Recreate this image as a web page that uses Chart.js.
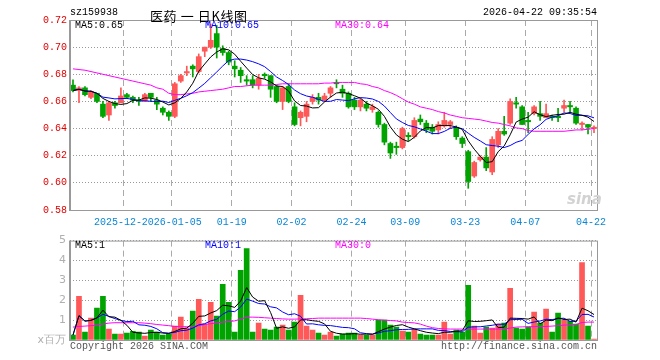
<!DOCTYPE html>
<html>
<head>
<meta charset="utf-8">
<script src="https://cdn.jsdelivr.net/npm/chart.js@4.4.1/dist/chart.umd.min.js"></script>
<style>
  body { margin: 0; background: #fff; }
  #wrap { position: relative; width: 660px; height: 360px; overflow: hidden; font-family: "Liberation Mono", monospace; font-size: 10px; }
  #priceBox { position: absolute; left: 0; top: 0; width: 660px; height: 230px; }
  #volBox { position: absolute; left: 0; top: 230px; width: 660px; height: 130px; }
  .txt { position: absolute; white-space: pre; line-height: 10px; }
</style>
</head>
<body>
<div id="wrap">
  <div id="priceBox"><canvas id="priceChart"></canvas></div>
  <div id="volBox"><canvas id="volChart"></canvas></div>

  <div class="txt" style="left:70px;top:8px;">sz159938</div>
  <div class="txt" style="left:150px;top:6px;line-height:14px;font:13px 'Noto Sans CJK SC';letter-spacing:0.6px;">医药 一 日K线图</div>
  <div class="txt" style="right:63px;top:8px;">2026-04-22 09:35:54</div>

  <div class="txt" style="left:75px;top:21px;">MA5:0.65</div>
  <div class="txt" style="left:205px;top:21px;color:#0000ff;">MA10:0.65</div>
  <div class="txt" style="left:335px;top:21px;color:#ff00ff;">MA30:0.64</div>

  <div class="txt" style="left:75px;top:241px;">MA5:1</div>
  <div class="txt" style="left:205px;top:241px;color:#0000ff;">MA10:1</div>
  <div class="txt" style="left:335px;top:241px;color:#ff00ff;">MA30:0</div>

  <div class="txt" style="left:567px;top:190px;line-height:16px;font:italic bold 15px 'DejaVu Sans';color:#d2d2d2;">sina</div>

  <div class="txt" style="left:70px;top:342px;color:#555;">Copyright 2026 SINA.COM</div>
  <div class="txt" style="right:63px;top:342px;color:#555;">http://finance.sina.com.cn</div>
</div>

<script>
// DATA
const dates = [
  "2025-12-09","2025-12-10","2025-12-11","2025-12-12","2025-12-15","2025-12-16","2025-12-17","2025-12-18","2025-12-19",
  "2025-12-22","2025-12-23","2025-12-24","2025-12-25","2025-12-26","2025-12-29","2025-12-30","2025-12-31",
  "2026-01-05","2026-01-06","2026-01-07","2026-01-08","2026-01-09","2026-01-12","2026-01-13","2026-01-14","2026-01-15","2026-01-16",
  "2026-01-19","2026-01-20","2026-01-21","2026-01-22","2026-01-23","2026-01-26","2026-01-27","2026-01-28","2026-01-29","2026-01-30",
  "2026-02-02","2026-02-03","2026-02-04","2026-02-05","2026-02-06","2026-02-09","2026-02-10","2026-02-11","2026-02-12","2026-02-13",
  "2026-02-24","2026-02-25","2026-02-26","2026-02-27","2026-03-02","2026-03-03","2026-03-04","2026-03-05","2026-03-06",
  "2026-03-09","2026-03-10","2026-03-11","2026-03-12","2026-03-13","2026-03-16","2026-03-17","2026-03-18","2026-03-19","2026-03-20",
  "2026-03-23","2026-03-24","2026-03-25","2026-03-26","2026-03-27","2026-03-30","2026-03-31","2026-04-01","2026-04-02","2026-04-03",
  "2026-04-07","2026-04-08","2026-04-09","2026-04-10","2026-04-13","2026-04-14","2026-04-15","2026-04-16","2026-04-17",
  "2026-04-20","2026-04-21","2026-04-22"
];

const opens = [
  .672,.668,.670,.663,.666,.658,.650,.659,.659,.665,.663,.661,.660,.666,.661,.655,.652,
  .649,.675,.681,.686,.682,.697,.700,.710,.699,.696,.686,.683,.676,.676,.672,.680,.679,.671,.660,.671,
  .656,.648,.649,.660,.663,.661,.666,.674,.669,.666,.661,.656,.658,.654,.652,.643,.629,.627,.626,
  .635,.634,.647,.644,.641,.639,.642,.643,.641,.633,.623,.605,.617,.619,.608,.628,.638,.644,.659,.656,
  .646,.651,.651,.648,.649,.649,.655,.657,.655,.643,.643,.640
];
const highs = [
  .676,.671,.671,.668,.666,.660,.660,.660,.670,.666,.664,.663,.666,.666,.663,.656,.653,
  .674,.680,.686,.687,.695,.700,.717,.716,.701,.697,.690,.685,.679,.679,.680,.681,.679,.672,.671,.673,
  .659,.653,.660,.665,.666,.666,.671,.676,.672,.667,.663,.662,.660,.658,.653,.644,.630,.630,.641,
  .637,.648,.650,.646,.643,.645,.652,.646,.642,.634,.624,.616,.620,.626,.634,.640,.649,.662,.663,.657,
  .652,.657,.660,.658,.650,.655,.661,.660,.656,.645,.643,.642
];
const lows = [
  .667,.659,.664,.662,.659,.648,.646,.655,.659,.662,.659,.657,.660,.660,.654,.650,.646,
  .648,.674,.679,.678,.681,.693,.699,.692,.694,.687,.678,.674,.672,.670,.669,.677,.663,.659,.654,.659,
  .642,.642,.645,.658,.658,.660,.663,.670,.663,.655,.654,.653,.653,.652,.641,.628,.618,.621,.625,
  .631,.633,.643,.637,.636,.636,.641,.640,.632,.626,.596,.604,.616,.609,.606,.626,.635,.643,.655,.643,
  .637,.650,.646,.648,.646,.645,.652,.652,.643,.639,.636,.637
];
const closes = [
  .668,.670,.665,.667,.660,.649,.659,.657,.664,.663,.661,.660,.665,.663,.658,.652,.649,
  .673,.679,.682,.684,.693,.700,.705,.700,.696,.689,.684,.679,.675,.672,.677,.679,.669,.660,.670,.660,
  .643,.652,.658,.663,.661,.664,.670,.673,.666,.656,.656,.661,.655,.656,.643,.630,.622,.626,.640,
  .634,.646,.645,.639,.638,.643,.646,.645,.634,.629,.601,.615,.619,.611,.632,.638,.636,.660,.658,.643,
  .645,.656,.649,.651,.648,.648,.657,.656,.644,.644,.641,.641
];
// volume, millions
const volumes = [
  .25,2.2,.4,1.1,1.6,2.2,.55,.3,.3,.35,.43,.4,.2,.5,.4,.25,.3,
  .7,1.15,.6,1.45,2.05,.8,1.9,1.2,2.8,1.9,.4,3.5,4.6,.4,.85,.55,.5,.65,.75,.5,
  .9,2.25,.7,.5,.35,.25,.4,.2,.3,.35,.35,.25,.25,.25,1.0,1.0,.75,.65,.45,
  .4,.55,.3,.25,.25,.25,.9,.3,.5,.4,2.75,.7,.35,.65,.6,.8,.85,2.6,.6,.55,
  .65,1.4,.85,1.55,.4,1.35,1.0,.95,.8,3.9,.7,.05
];
// 30-day averages as drawn (the window reaches back before the first bar)
const ma30 = [
  .684,.6835,.683,.682,.681,.680,.679,.678,.677,.676,.675,.674,.673,.672,.670,.669,.666,
  .665,.665,.6655,.666,.667,.6675,.668,.6685,.669,.670,.671,.671,.6715,.672,.672,.672,.672,.6725,.673,.673,
  .673,.673,.673,.673,.673,.6735,.6735,.674,.674,.674,.674,.673,.6725,.671,.670,.668,.6665,.6645,.662,
  .6595,.658,.656,.655,.654,.6525,.6515,.650,.649,.648,.6475,.647,.6465,.6455,.6445,.644,.643,.642,.6405,.640,
  .6385,.638,.638,.638,.638,.638,.638,.6385,.639,.639,.6395,.640
];
const volMa30 = [
  .65,.68,.7,.72,.75,.8,.85,.87,.87,.87,.87,.87,.85,.82,.78,.75,.72,
  .68,.67,.67,.68,.72,.78,.82,.86,.9,.93,.96,1.05,1.15,1.15,1.14,1.12,1.1,1.08,1.06,1.05,
  1.05,1.06,1.07,1.08,1.1,1.1,1.1,1.1,1.1,1.1,1.1,1.1,1.08,1.05,1.02,1.0,.98,.96,.9,
  .88,.86,.8,.7,.62,.58,.56,.55,.55,.55,.55,.55,.55,.55,.55,.55,.55,.6,.65,.66,
  .67,.67,.68,.68,.7,.72,.75,.76,.78,.88,.9,.9
];

const tickDates = ["2025-12-22","2026-01-05","2026-01-19","2026-02-02","2026-02-24","2026-03-09","2026-03-23","2026-04-07","2026-04-22"];
const tickLabels = ["2025-12-22","2026-01-05","01-19","02-02","02-24","03-09","03-23","04-07","04-22"];

// HELPERS
const RED = "#ff5858";
const GREEN = "#00a300";
const tickIdx = tickDates.map((d) => dates.indexOf(d));
const candleColor = closes.map((c, i) => (c >= opens[i] ? RED : GREEN));

function movingAverage(values, n) {
  return values.map((v, i) => {
    const s = values.slice(Math.max(0, i - n + 1), i + 1);
    return s.reduce((a, b) => a + b, 0) / s.length;
  });
}

const frame = {
  id: "frame",
  afterDraw(chart) {
    const { ctx, chartArea: a } = chart;
    ctx.save();
    ctx.strokeStyle = "#999";
    ctx.lineWidth = 1;
    ctx.strokeRect(a.left + 0.5, a.top + 0.5, a.right - a.left, a.bottom - a.top);
    ctx.lineWidth = 2;
    ctx.beginPath();
    ctx.moveTo(a.left, a.top);
    ctx.lineTo(a.left, a.bottom + 1);
    ctx.stroke();
    ctx.restore();
  },
};

const xGrid = {
  color: (c) => (tickIdx.includes(c.index) ? "#aaa" : "rgba(0,0,0,0)"),
  lineWidth: 1,
  drawTicks: false,
  offset: true,
};

function lineSet(data, color) {
  return {
    type: "line",
    data: data,
    borderColor: color,
    borderWidth: 1,
    pointRadius: 0,
    tension: 0,
    order: 0,
  };
}

Chart.defaults.animation = false;

// PRICE CHART
new Chart(document.getElementById("priceChart"), {
  type: "bar",
  data: {
    labels: dates,
    datasets: [
      {
        data: lows.map((l, i) => [l, highs[i]]),
        backgroundColor: candleColor,
        barThickness: 1,
        grouped: false,
        order: 2,
      },
      {
        data: opens.map((o, i) => [Math.min(o, closes[i]), Math.max(o, closes[i])]),
        backgroundColor: candleColor,
        barThickness: 5,
        minBarLength: 1,
        grouped: false,
        order: 1,
      },
      lineSet(movingAverage(closes, 5), "#000"),
      lineSet(movingAverage(closes, 10), "#0000ff"),
      lineSet(ma30, "#ff00ff"),
    ],
  },
  options: {
    responsive: true,
    maintainAspectRatio: false,
    layout: { padding: { top: 20, right: 63, left: 0, bottom: 0 } },
    plugins: { legend: { display: false }, tooltip: { enabled: false } },
    scales: {
      x: {
        offset: true,
        grid: xGrid,
        border: { display: false, dash: [6, 4] },
        afterFit: (s) => { s.height = 20; },
        ticks: {
          autoSkip: false,
          maxRotation: 0,
          padding: 6,
          labelOffset: -3,
          color: "#0a86d6",
          font: { family: "Liberation Mono", size: 10 },
          showLabelBackdrop: true,
          backdropColor: "#fff",
          backdropPadding: 0,
          callback: (v, i) => {
            const k = tickIdx.indexOf(i);
            return k >= 0 ? tickLabels[k] : "";
          },
        },
      },
      y: {
        min: 0.58,
        max: 0.72,
        afterFit: (s) => { s.width = 70; },
        grid: { color: "#999", drawTicks: false },
        border: { display: false, dash: [1, 2] },
        ticks: {
          stepSize: 0.02,
          padding: 3,
          color: "#e00000",
          font: { family: "Liberation Mono", size: 10 },
          callback: (v) => v.toFixed(2),
        },
      },
    },
  },
  plugins: [frame],
});

// VOLUME CHART
new Chart(document.getElementById("volChart"), {
  type: "bar",
  data: {
    labels: dates,
    datasets: [
      {
        data: volumes,
        backgroundColor: candleColor,
        barThickness: 5,
        order: 1,
      },
      lineSet(movingAverage(volumes, 5), "#000"),
      lineSet(movingAverage(volumes, 10), "#0000ff"),
      lineSet(volMa30, "#ff00ff"),
    ],
  },
  options: {
    responsive: true,
    maintainAspectRatio: false,
    layout: { padding: { top: 10, right: 63, left: 0, bottom: 0 } },
    plugins: { legend: { display: false }, tooltip: { enabled: false } },
    scales: {
      x: {
        offset: true,
        grid: xGrid,
        border: { display: false, dash: [6, 4] },
        afterFit: (s) => { s.height = 20; },
        ticks: { display: false },
      },
      y: {
        min: 0,
        max: 5,
        afterFit: (s) => { s.width = 70; },
        grid: { color: "#999", drawTicks: false },
        border: { display: false, dash: [1, 2] },
        ticks: {
          stepSize: 1,
          padding: 4,
          color: "#b0b0b0",
          font: { family: "DejaVu Sans", size: 11 },
          callback: (v) => (v === 0 ? "x百万" : v),
        },
      },
    },
  },
  plugins: [frame],
});
</script>
</body>
</html>
